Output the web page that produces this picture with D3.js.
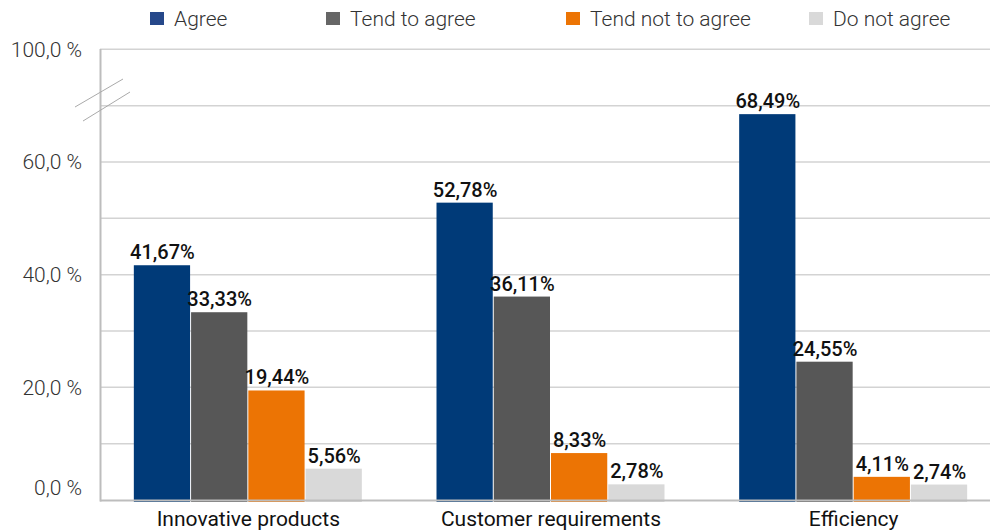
<!DOCTYPE html>
<html><head><meta charset="utf-8">
<script src="https://cdn.jsdelivr.net/npm/d3@7"></script>
<style>body{margin:0;background:#fff}svg{display:block;font-family:Roboto,"Noto Sans",sans-serif}</style>
</head><body><svg id="c" width="990" height="532"></svg>
<script>
const categories = ["Innovative products","Customer requirements","Efficiency"];
const seriesNames = ["Agree","Tend to agree","Tend not to agree","Do not agree"];
const agree = [41.67, 52.78, 68.49];
const tendToAgree = [33.33, 36.11, 24.55];
const tendNotToAgree = [19.44, 8.33, 4.11];
const doNotAgree = [5.56, 2.78, 2.74];
const tickValues = [0, 20, 40, 60, 80];
const tickLabels = ["0,0 %","20,0 %","40,0 %","60,0 %","100,0 %"];
const gridValues = [10, 20, 30, 40, 50, 60, 70, 80];

const seriesValues = [agree, tendToAgree, tendNotToAgree, doNotAgree];
const barColors = ["#003a78","#575757","#ec7404","#d9d9d9"];
const legendColors = ["#26488a","#666666","#ec7404","#d9d9d9"];
const fmt = v => v.toFixed(2).replace(".", ",") + "%";

const svg = d3.select("#c");
const y = d3.scaleLinear().domain([0, 80]).range([500, 49.3]);
const x0 = d3.scaleBand().domain(categories).range([97, 1005]);
const groupW = 229;
const x1 = d3.scaleBand().domain(seriesNames).range([0, groupW]);

// gridlines
svg.append("g").selectAll("line").data(gridValues).join("line")
  .attr("x1", 100).attr("x2", 990)
  .attr("y1", d => y(d)).attr("y2", d => y(d))
  .attr("stroke", "#d3d3d3").attr("stroke-width", 1.5);

// bars
const g = svg.append("g");
categories.forEach((cat, ci) => {
  const gx = x0(cat) + (x0.bandwidth() - groupW) / 2;
  seriesNames.forEach((s, si) => {
    const v = seriesValues[si][ci];
    const bx = gx + x1(s);
    g.append("rect").attr("x", bx).attr("y", y(v))
      .attr("width", x1.bandwidth() - 1).attr("height", 502 - y(v))
      .attr("fill", barColors[si]);
    g.append("text").attr("x", bx + x1.bandwidth() / 2).attr("y", y(v) - 6)
      .attr("text-anchor", "middle").attr("font-size", 20).attr("font-weight", 500)
      .attr("fill", "#111").text(fmt(v));
  });
  svg.append("text").attr("x", gx + groupW / 2).attr("y", 526)
    .attr("text-anchor", "middle").attr("font-size", 21).attr("fill", "#111").text(cat);
});

// baseline and y axis line
svg.append("line").attr("x1", 100).attr("x2", 990).attr("y1", 500.5).attr("y2", 500.5)
  .attr("stroke", "#bdbdbd").attr("stroke-width", 2);
svg.append("line").attr("x1", 100.5).attr("x2", 100.5).attr("y1", 49).attr("y2", 501.5)
  .attr("stroke", "#bdbdbd").attr("stroke-width", 2);

// axis break marks
svg.append("line").attr("x1", 75).attr("y1", 107).attr("x2", 123).attr("y2", 79)
  .attr("stroke", "#aaa").attr("stroke-width", 1);
svg.append("line").attr("x1", 83).attr("y1", 121).attr("x2", 130).attr("y2", 92)
  .attr("stroke", "#aaa").attr("stroke-width", 1);

// y tick labels
svg.append("g").selectAll("text").data(tickValues).join("text")
  .attr("x", 82).attr("y", (d, i) => y(d) + (d === 0 ? -12 : 0))
  .attr("dy", "0.35em").attr("text-anchor", "end")
  .attr("font-size", 21).attr("font-weight", 300).attr("fill", "#333")
  .text((d, i) => tickLabels[i]);

// legend
const legendX = [150, 326, 566, 809];
const lg = svg.append("g");
seriesNames.forEach((s, i) => {
  lg.append("rect").attr("x", legendX[i]).attr("y", 12).attr("width", 14).attr("height", 13)
    .attr("fill", legendColors[i]);
  lg.append("text").attr("x", legendX[i] + 24).attr("y", 26)
    .attr("font-size", 21).attr("font-weight", 300).attr("fill", "#333").text(s);
});
</script></body></html>
